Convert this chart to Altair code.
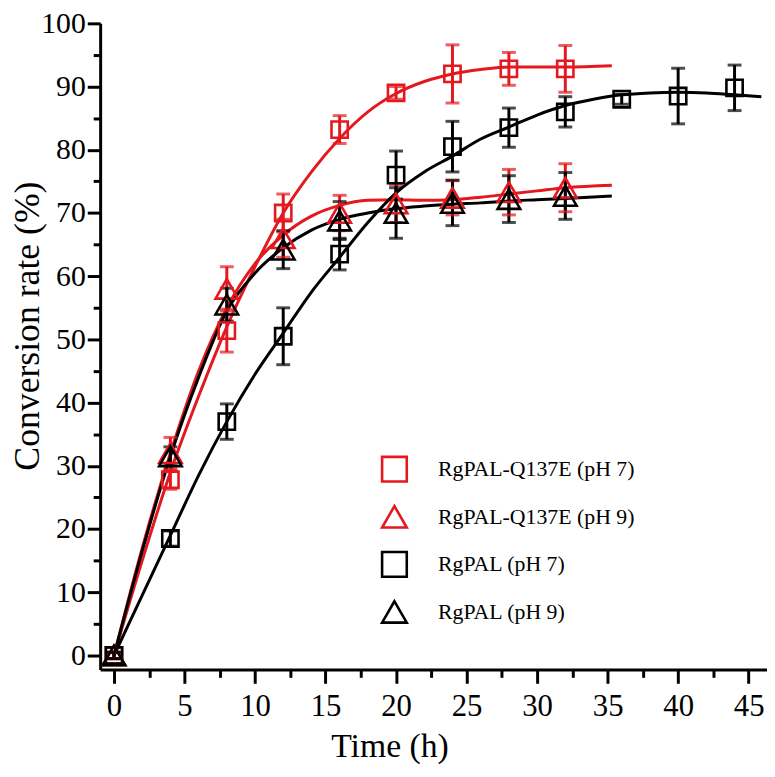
import altair as alt
import pandas as pd

# ---------------- data ----------------
series_names = ["RgPAL-Q137E (pH 7)", "RgPAL-Q137E (pH 9)", "RgPAL (pH 7)", "RgPAL (pH 9)"]
series_colors = ["#e3191f", "#e3191f", "#000000", "#000000"]
series_shapes = ["square", "triangle-up", "square", "triangle-up"]

time_short = [0, 4, 8, 12, 16, 20, 24, 28, 32]
time_long = [0, 4, 8, 12, 16, 20, 24, 28, 32, 36, 40, 44]

q_ph7_mean = [0, 27.8, 51.4, 70.0, 83.2, 89.0, 92.0, 92.8, 92.8]
q_ph7_err = [0.5, 1.5, 3.4, 3.0, 2.2, 1.0, 4.6, 2.6, 3.7]

q_ph9_mean = [0, 32.0, 58.0, 66.0, 70.0, 71.5, 72.4, 73.3, 74.0]
q_ph9_err = [0.5, 2.5, 3.5, 3.0, 2.8, 3.0, 2.7, 3.6, 3.8]

wt_ph7_mean = [0, 18.5, 37.0, 50.5, 63.5, 76.0, 80.5, 83.5, 86.0, 88.0, 88.5, 89.8]
wt_ph7_err = [0.5, 1.2, 2.8, 4.5, 2.5, 3.8, 4.0, 3.1, 2.4, 0.8, 4.4, 3.6]

wt_ph9_mean = [0, 31.5, 55.5, 64.2, 68.8, 70.0, 71.6, 72.2, 72.7]
wt_ph9_err = [0.5, 1.5, 2.6, 3.0, 3.0, 4.0, 3.6, 3.7, 3.7]

# fitted curves
fit_q_ph7_t = [0, 2, 4, 6, 8, 10, 12, 14, 16, 18, 20, 22, 24, 26, 28, 30, 32, 35.3]
fit_q_ph7_y = [0, 15, 29, 41, 52, 61.5, 70, 76.5, 81.8, 86, 88.9, 90.8, 92, 92.7, 93.1, 93.1, 93.1, 93.3]

fit_q_ph9_t = [0, 2, 4, 6, 8, 10, 12, 14, 16, 18, 20, 22, 24, 26, 28, 30, 32, 35.3]
fit_q_ph9_y = [0, 17, 32, 45, 55, 62, 66.5, 69.5, 71.2, 72, 72.1, 72, 72.1, 72.5, 73, 73.5, 74, 74.4]

fit_wt_ph7_t = [0, 2, 4, 6, 8, 10, 12, 14, 16, 18, 20, 22, 24, 26, 28, 30, 32, 34, 36, 38, 40, 42, 44, 45.9]
fit_wt_ph7_y = [0, 9.5, 19, 28.5, 37, 44.5, 51, 57.5, 63, 68.5, 73.2, 76.5, 79, 81.7, 83.6, 85.5, 87, 88, 88.7, 89, 89.1, 89, 88.7, 88.4]

fit_wt_ph9_t = [0, 2, 4, 6, 8, 10, 12, 14, 16, 18, 20, 22, 24, 26, 28, 30, 32, 35.3]
fit_wt_ph9_y = [0, 16.5, 31.5, 44, 54.5, 60.5, 64.5, 67.3, 69, 70, 70.7, 71.1, 71.4, 71.6, 71.9, 72.1, 72.3, 72.7]

x_major = [0, 5, 10, 15, 20, 25, 30, 35, 40, 45]
x_minor = [2.5, 7.5, 12.5, 17.5, 22.5, 27.5, 32.5, 37.5, 42.5]
y_major = [0, 10, 20, 30, 40, 50, 60, 70, 80, 90, 100]
y_minor = [5, 15, 25, 35, 45, 55, 65, 75, 85, 95]

# ---------------- tables ----------------
pt_sets = [
    (time_short, q_ph7_mean, q_ph7_err),
    (time_short, q_ph9_mean, q_ph9_err),
    (time_long, wt_ph7_mean, wt_ph7_err),
    (time_short, wt_ph9_mean, wt_ph9_err),
]
fit_sets = [
    (fit_q_ph7_t, fit_q_ph7_y),
    (fit_q_ph9_t, fit_q_ph9_y),
    (fit_wt_ph7_t, fit_wt_ph7_y),
    (fit_wt_ph9_t, fit_wt_ph9_y),
]

pts_rows, cap_rows, fit_rows = [], [], []
for name, col, shp, (ts, ms, es) in zip(series_names, series_colors, series_shapes, pt_sets):
    for t, m, e in zip(ts, ms, es):
        pts_rows.append({"time": t, "value": m, "lo": m - e, "hi": m + e,
                         "series": name, "color": col, "marker": shp})
        cap_rows.append({"time": t, "cap": m - e, "series": name, "color": col})
        cap_rows.append({"time": t, "cap": m + e, "series": name, "color": col})
for name, col, (ts, ys) in zip(series_names, series_colors, fit_sets):
    for t, v in zip(ts, ys):
        fit_rows.append({"time": t, "value": v, "series": name, "color": col})

df_pts = pd.DataFrame(pts_rows)
df_caps = pd.DataFrame(cap_rows)
df_fit = pd.DataFrame(fit_rows)

FONT = "Liberation Serif"
xscale = alt.Scale(domain=[-0.98, 46.3], nice=False, zero=False)
yscale = alt.Scale(domain=[-2.2, 100], nice=False, zero=False)

x_main_axis = alt.Axis(
    orient="bottom", values=x_major, tickSize=14, labelPadding=9, labelFontSize=31,
    labelFont=FONT, labelFlush=False, labelOverlap=False, title="Time (h)",
    titleFont=FONT, titleFontSize=34, titleFontWeight="normal", titleX=292, titleY=88,
    titleAlign="center", titleBaseline="alphabetic", grid=False, format="d",
)
y_main_axis = alt.Axis(
    orient="left", values=y_major, tickSize=13, labelPadding=2, labelFontSize=30,
    labelFont=FONT, labelFlush=False, labelOverlap=False, title="Conversion rate (%)",
    titleFont=FONT, titleFontSize=36, titleFontWeight="normal", titleAngle=270,
    titleX=-62, titleY=305, titleAlign="center", titleBaseline="alphabetic", grid=False, format="d",
)
x_minor_axis = alt.Axis(orient="bottom", values=x_minor, tickSize=8, labels=False,
                        domain=False, title=None, grid=False)
y_minor_axis = alt.Axis(orient="left", values=y_minor, tickSize=7, labels=False,
                        domain=False, title=None, grid=False)

lines = alt.Chart(df_fit).mark_line(strokeWidth=3, interpolate="monotone", clip=True).encode(
    x=alt.X("time:Q", scale=xscale, axis=x_main_axis),
    y=alt.Y("value:Q", scale=yscale, axis=y_main_axis),
    stroke=alt.Stroke("color:N", scale=None),
    detail="series:N",
)

rules = alt.Chart(df_pts).mark_rule(strokeWidth=3).encode(
    x=alt.X("time:Q", scale=xscale, axis=None),
    y=alt.Y("lo:Q", scale=yscale, axis=None),
    y2="hi:Q",
    stroke=alt.Stroke("color:N", scale=None),
)

caps = alt.Chart(df_caps).mark_tick(orient="horizontal", size=14, thickness=3).encode(
    x=alt.X("time:Q", scale=xscale, axis=x_minor_axis),
    y=alt.Y("cap:Q", scale=yscale, axis=y_minor_axis),
    fill=alt.Fill("color:N", scale=None),
)

legend = alt.Legend(
    orient="none", legendX=283, legendY=436, title=None, labelFont=FONT, labelFontSize=22,
    labelColor="black", labelLimit=400, symbolSize=620, symbolStrokeWidth=2.6, rowPadding=14,
    labelOffset=30, padding=0,
)

color_enc = alt.Color("series:N", scale=alt.Scale(domain=series_names, range=series_colors), legend=legend)
shape_enc = alt.Shape("series:N", scale=alt.Scale(domain=series_names, range=series_shapes), legend=legend)

squares = alt.Chart(df_pts).transform_filter(alt.datum.marker == "square").mark_point(
    filled=False, strokeWidth=2.6, opacity=1, size=270
).encode(
    x=alt.X("time:Q", scale=xscale, axis=None),
    y=alt.Y("value:Q", scale=yscale, axis=None),
    color=color_enc,
    shape=shape_enc,
)

triangles = alt.Chart(df_pts).transform_filter(alt.datum.marker == "triangle-up").mark_point(
    filled=False, strokeWidth=2.6, opacity=1, size=520
).encode(
    x=alt.X("time:Q", scale=xscale, axis=None),
    y=alt.Y("value:Q", scale=yscale, axis=None),
    color=color_enc,
    shape=shape_enc,
)

chart = (
    alt.layer(lines, rules, caps, squares, triangles)
    .resolve_axis(x="independent", y="independent")
    .properties(
        width=673, height=652,
        padding={"left": 93, "top": 12, "right": 0, "bottom": 95},
        autosize=alt.AutoSizeParams(type="none"),
    )
    .configure_view(stroke=None)
    .configure_axis(domainColor="black", domainWidth=3, tickColor="black", tickWidth=3,
                    labelColor="black", titleColor="black")
)

chart.save("out.html", embed_options={"renderer": "svg", "actions": False})
